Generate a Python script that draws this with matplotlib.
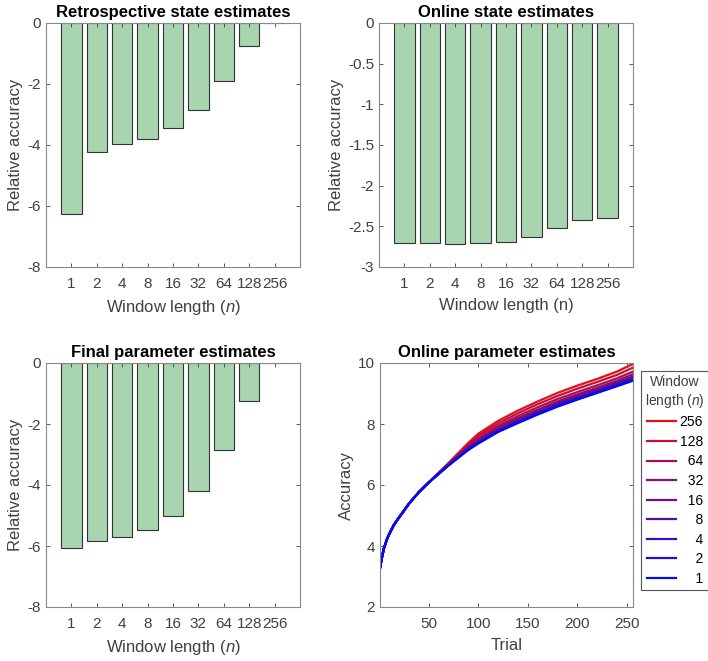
import numpy as np
import matplotlib
matplotlib.use('Agg')
import matplotlib.pyplot as plt

plt.rcParams['font.family'] = ['Liberation Sans', 'DejaVu Sans']
plt.rcParams['axes.unicode_minus'] = False
plt.rcParams['mathtext.fontset'] = 'custom'
plt.rcParams['mathtext.it'] = 'Liberation Sans:italic'

# Data
window_labels = ['1', '2', '4', '8', '16', '32', '64', '128', '256']
retro_state = [-6.25, -4.22, -3.98, -3.80, -3.45, -2.85, -1.90, -0.77, 0.0]
online_state = [-2.71, -2.71, -2.72, -2.71, -2.69, -2.63, -2.52, -2.42, -2.40]
final_param = [-6.06, -5.85, -5.71, -5.46, -5.00, -4.19, -2.86, -1.25, 0.0]

trials = [1, 3, 5, 8, 10, 15, 20, 25, 30, 40, 50,
          60, 70, 80, 90, 100, 120, 140, 160, 180, 200, 220, 240, 256]
early = [3.27, 3.63, 3.93, 4.22, 4.37, 4.69, 4.93, 5.15, 5.38, 5.76, 6.08]
online_param = {
    '256': early + [6.40, 6.72, 7.05, 7.38, 7.68, 8.10, 8.44, 8.74, 9.02, 9.26, 9.48, 9.72, 9.97],
    '128': early + [6.39, 6.70, 7.02, 7.33, 7.61, 8.02, 8.35, 8.65, 8.92, 9.16, 9.38, 9.61, 9.85],
    '64':  early + [6.38, 6.68, 6.98, 7.28, 7.54, 7.94, 8.26, 8.55, 8.82, 9.05, 9.27, 9.50, 9.72],
    '32':  early + [6.38, 6.67, 6.96, 7.24, 7.48, 7.88, 8.19, 8.47, 8.74, 8.97, 9.19, 9.42, 9.63],
    '16':  early + [6.37, 6.66, 6.94, 7.21, 7.44, 7.83, 8.14, 8.42, 8.69, 8.92, 9.14, 9.36, 9.56],
    '8':   early + [6.37, 6.65, 6.92, 7.19, 7.41, 7.80, 8.10, 8.38, 8.64, 8.87, 9.09, 9.32, 9.51],
    '4':   early + [6.36, 6.65, 6.91, 7.17, 7.39, 7.77, 8.07, 8.35, 8.61, 8.84, 9.06, 9.28, 9.47],
    '2':   early + [6.36, 6.64, 6.90, 7.16, 7.37, 7.75, 8.05, 8.33, 8.59, 8.82, 9.04, 9.26, 9.44],
    '1':   early + [6.36, 6.64, 6.90, 7.15, 7.36, 7.74, 8.03, 8.31, 8.57, 8.80, 9.02, 9.24, 9.42],
}

gray = '#404040'
bar_color = '#a8d5b0'

fig = plt.figure(figsize=(7.08, 6.61), dpi=100)
w, h = 254 / 708, 244 / 661
ax_tl = fig.add_axes([46 / 708, 1 - 267 / 661, w, h])
ax_tr = fig.add_axes([379 / 708, 1 - 267 / 661, w, h])
ax_bl = fig.add_axes([46 / 708, 1 - 607 / 661, w, h])
ax_br = fig.add_axes([380 / 708, 1 - 607 / 661, 253 / 708, h])


def style(ax):
    ax.tick_params(direction='in', top=True, right=True, labelsize=11,
                   colors=gray, length=3, width=0.6)
    ax.tick_params(axis='x', pad=7)
    for s in ax.spines.values():
        s.set_color('#888888')
        s.set_linewidth(0.8)


def bar_panel(ax, vals, title, xlabel, ylim, yticks, yticklabels=None):
    x = np.arange(1, len(vals) + 1)
    ax.bar(x, vals, width=0.8, color=bar_color, edgecolor='#333333', linewidth=0.8)
    ax.set_xlim(0, 10)
    ax.set_ylim(*ylim)
    ax.set_xticks(x)
    ax.set_xticklabels(window_labels)
    ax.set_yticks(yticks)
    if yticklabels is not None:
        ax.set_yticklabels(yticklabels)
    ax.set_title(title, fontsize=12, fontweight='bold', pad=4)
    ax.set_xlabel(xlabel, fontsize=12, color=gray, labelpad=5)
    ax.set_ylabel('Relative accuracy', fontsize=12, color=gray, labelpad=3)
    style(ax)


bar_panel(ax_tl, retro_state, 'Retrospective state estimates', 'Window length ($\\mathit{n}$)',
          (-8, 0), [-8, -6, -4, -2, 0])
bar_panel(ax_tr, online_state, 'Online state estimates', 'Window length (n)',
          (-3, 0), [-3, -2.5, -2, -1.5, -1, -0.5, 0],
          ['-3', '-2.5', '-2', '-1.5', '-1', '-0.5', '0'])
bar_panel(ax_bl, final_param, 'Final parameter estimates', 'Window length ($\\mathit{n}$)',
          (-8, 0), [-8, -6, -4, -2, 0])

# Online parameter estimates
keys = list(online_param.keys())
for i, k in enumerate(keys):
    f = (len(keys) - 1 - i) / (len(keys) - 1)
    col = (0.9 * f, 0.05, 0.95 * (1 - f) + 0.1 * f)
    ax_br.plot(trials, online_param[k], color=col, linewidth=1.6,
               label=k.rjust(3).replace(' ', '  '))
ax_br.set_xlim(1, 256)
ax_br.set_ylim(2, 10)
ax_br.set_xticks([50, 100, 150, 200, 250])
ax_br.set_yticks([2, 4, 6, 8, 10])
ax_br.set_title('Online parameter estimates', fontsize=12, fontweight='bold', pad=4)
ax_br.set_xlabel('Trial', fontsize=12, color=gray, labelpad=5)
ax_br.set_ylabel('Accuracy', fontsize=12, color=gray, labelpad=3)
style(ax_br)

leg = ax_br.legend(title='Window\nlength ($\\mathit{n}$)', loc='upper left',
                   bbox_to_anchor=(641 / 708, 1 - 371 / 661), bbox_transform=fig.transFigure,
                   borderaxespad=0, fontsize=10, title_fontsize=10, handlelength=2.1,
                   handletextpad=0.25, labelspacing=0.4, borderpad=0.3,
                   fancybox=False, framealpha=1, edgecolor='#555555')
leg.get_title().set_color(gray)
leg.get_title().set_multialignment('center')
leg.get_frame().set_linewidth(0.8)

fig.savefig('out.png', dpi=100)
